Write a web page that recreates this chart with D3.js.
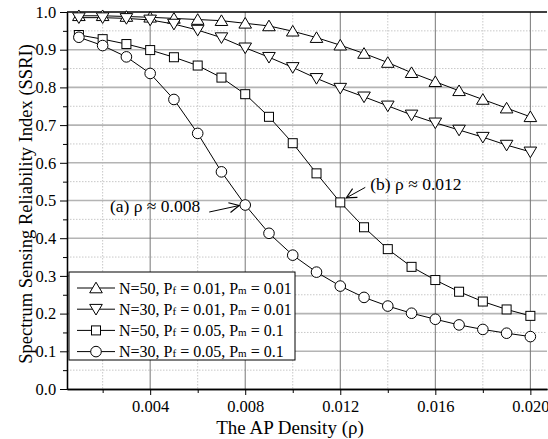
<!DOCTYPE html>
<html>
<head>
<meta charset="utf-8">
<script src="https://cdn.jsdelivr.net/npm/d3@7"></script>
<style>
  body { margin: 0; background: #fff; }
  text { font-family: "Liberation Serif", "Times New Roman", serif; }
</style>
</head>
<body>
<div id="chart"></div>
<script>
// data
var rho = [0.001, 0.002, 0.003, 0.004, 0.005, 0.006, 0.007, 0.008, 0.009, 0.010,
           0.011, 0.012, 0.013, 0.014, 0.015, 0.016, 0.017, 0.018, 0.019, 0.020];
var n50_pf001 = [0.990, 0.990, 0.988, 0.986, 0.983, 0.980, 0.977, 0.970, 0.963, 0.949,
                 0.932, 0.912, 0.890, 0.866, 0.839, 0.815, 0.791, 0.768, 0.745, 0.722];
var n30_pf001 = [0.985, 0.985, 0.983, 0.979, 0.968, 0.952, 0.932, 0.905, 0.880, 0.853,
                 0.824, 0.798, 0.775, 0.751, 0.727, 0.706, 0.687, 0.668, 0.647, 0.629];
var n50_pf005 = [0.939, 0.928, 0.915, 0.899, 0.880, 0.858, 0.826, 0.782, 0.722, 0.652,
                 0.572, 0.495, 0.429, 0.371, 0.324, 0.289, 0.258, 0.232, 0.211, 0.194];
var n30_pf005 = [0.933, 0.911, 0.881, 0.837, 0.768, 0.678, 0.576, 0.488, 0.413, 0.355,
                 0.310, 0.273, 0.243, 0.220, 0.201, 0.185, 0.170, 0.158, 0.148, 0.139];
var seriesNames = [
  ["N=50, P", "f", " = 0.01, P", "m", " = 0.01"],
  ["N=30, P", "f", " = 0.01, P", "m", " = 0.01"],
  ["N=50, P", "f", " = 0.05, P", "m", " = 0.1"],
  ["N=30, P", "f", " = 0.05, P", "m", " = 0.1"]
];
var markers = ["triangle-up", "triangle-down", "square", "circle"];
var xTicks = [0.004, 0.008, 0.012, 0.016, 0.020];
var xMinor = [0.002, 0.006, 0.010, 0.014, 0.018];
var yTicks = [0.0, 0.1, 0.2, 0.3, 0.4, 0.5, 0.6, 0.7, 0.8, 0.9, 1.0];
var yMinor = [0.05, 0.15, 0.25, 0.35, 0.45, 0.55, 0.65, 0.75, 0.85, 0.95];

var W = 548, H = 439;
var margin = {top: 12, left: 67, bottom: 50, right: 1};
var width = W - margin.left - margin.right;
var height = H - margin.top - margin.bottom;

var svg = d3.select("#chart").append("svg")
  .attr("width", W).attr("height", H);

var x = d3.scaleLinear().domain([0.0005, 0.0207]).range([0, width]);
var y = d3.scaleLinear().domain([0, 1]).range([height, 0]);

var g = svg.append("g").attr("transform", "translate(" + margin.left + "," + margin.top + ")");

// grid
g.selectAll(".ymin").data(yMinor).enter().append("line")
  .attr("x1", 0).attr("x2", width).attr("y1", d => y(d)).attr("y2", d => y(d))
  .attr("stroke", "#c8c8c8").attr("stroke-dasharray", "1.5,1.5");
g.selectAll(".xmin").data(xMinor).enter().append("line")
  .attr("y1", 0).attr("y2", height).attr("x1", d => x(d)).attr("x2", d => x(d))
  .attr("stroke", "#c8c8c8").attr("stroke-dasharray", "1.5,1.5");
g.selectAll(".ymaj").data(yTicks.slice(1, 10)).enter().append("line")
  .attr("x1", 0).attr("x2", width).attr("y1", d => y(d)).attr("y2", d => y(d))
  .attr("stroke", "#b4b4b4").attr("stroke-width", 1.6);
g.selectAll(".xmaj").data(xTicks).enter().append("line")
  .attr("y1", 0).attr("y2", height).attr("x1", d => x(d)).attr("x2", d => x(d))
  .attr("stroke", "#777").attr("stroke-width", 1);

// axes
var xAxis = g.append("g").attr("transform", "translate(0," + height + ")")
  .call(d3.axisBottom(x).tickValues(xTicks).tickFormat(d3.format(".3f")).tickSize(6).tickSizeOuter(0));
g.append("g").attr("transform", "translate(0," + height + ")")
  .call(d3.axisBottom(x).tickValues(xMinor).tickFormat("").tickSize(4).tickSizeOuter(0));
var yAxis = g.append("g")
  .call(d3.axisLeft(y).tickValues(yTicks).tickFormat(d3.format(".1f")).tickSize(7).tickSizeOuter(0));
g.append("g")
  .call(d3.axisLeft(y).tickValues(yMinor).tickFormat("").tickSize(4).tickSizeOuter(0));
g.selectAll(".domain").attr("stroke", "#000").attr("stroke-width", 1.3);
g.selectAll(".tick line").attr("stroke", "#000");
xAxis.attr("font-family", "Liberation Serif").attr("font-size", 16.5);
yAxis.attr("font-family", "Liberation Serif").attr("font-size", 16.5);
g.selectAll(".tick text").attr("fill", "#000");
xAxis.selectAll(".tick text").attr("dy", "0.84em");
yAxis.selectAll(".tick text").attr("dx", "-0.05em");
// top border
g.append("line").attr("x1", 0).attr("x2", width).attr("y1", 0).attr("y2", 0)
  .attr("stroke", "#000").attr("stroke-width", 1.5);

// series
var all = [n50_pf001, n30_pf001, n50_pf005, n30_pf005];
var line = d3.line().x((d, i) => x(rho[i])).y(d => y(d));

function drawMarker(sel, type, cx, cy) {
  if (type === "circle") {
    sel.append("circle").attr("cx", cx).attr("cy", cy).attr("r", 5.3)
      .attr("fill", "#fff").attr("stroke", "#000").attr("stroke-width", 1);
  } else if (type === "square") {
    sel.append("rect").attr("x", cx - 4.5).attr("y", cy - 4.5).attr("width", 9).attr("height", 9)
      .attr("fill", "#fff").attr("stroke", "#000").attr("stroke-width", 1);
  } else {
    var s = type === "triangle-up" ? -1 : 1;
    var pts = [[cx, cy + s * 5.8], [cx - 6.3, cy - s * 4.8], [cx + 6.3, cy - s * 4.8]];
    sel.append("path").attr("d", "M" + pts.join("L") + "Z")
      .attr("fill", "#fff").attr("stroke", "#000").attr("stroke-width", 1);
  }
}

all.forEach(function(vals, k) {
  g.append("path").datum(vals).attr("d", line)
    .attr("fill", "none").attr("stroke", "#000").attr("stroke-width", 1);
});
all.forEach(function(vals, k) {
  var mg = g.append("g");
  vals.forEach(function(v, i) { drawMarker(mg, markers[k], x(rho[i]), y(v)); });
});

// annotations
var defs = svg.append("defs");
defs.append("marker").attr("id", "arr").attr("viewBox", "0 0 12 12")
  .attr("refX", 11).attr("refY", 6).attr("markerWidth", 12).attr("markerHeight", 12)
  .attr("markerUnits", "userSpaceOnUse").attr("orient", "auto")
  .append("path").attr("d", "M1,1 L11,6 L1,11").attr("fill", "none").attr("stroke", "#000").attr("stroke-width", 1.1);

var annA = {x: 0.008, v: n30_pf005[7]};
var annB = {x: 0.012, v: n50_pf005[11]};
g.append("line").attr("x1", x(annA.x) - 36).attr("y1", y(annA.v) + 7)
  .attr("x2", x(annA.x) - 6).attr("y2", y(annA.v) + 0.5)
  .attr("stroke", "#000").attr("stroke-width", 1).attr("marker-end", "url(#arr)");
g.append("text").attr("x", x(annA.x) - 45).attr("y", y(annA.v) + 7)
  .attr("text-anchor", "end").style("font-size", "17.5px").text("(a) ρ ≈ 0.008");
g.append("line").attr("x1", x(annB.x) + 25).attr("y1", y(annB.v) - 15)
  .attr("x2", x(annB.x) + 6).attr("y2", y(annB.v) - 4.5)
  .attr("stroke", "#000").attr("stroke-width", 1).attr("marker-end", "url(#arr)");
g.append("text").attr("x", x(annB.x) + 30).attr("y", y(annB.v) - 12.5)
  .style("font-size", "17.5px").text("(b) ρ ≈ 0.012");

// legend
var lg = svg.append("g").attr("transform", "translate(69,272)");
lg.append("rect").attr("width", 226).attr("height", 88)
  .attr("fill", "#fff").attr("stroke", "#000").attr("stroke-width", 1);
seriesNames.forEach(function(parts, k) {
  var ly = 16 + k * 21.2;
  lg.append("line").attr("x1", 8).attr("x2", 46).attr("y1", ly).attr("y2", ly)
    .attr("stroke", "#000").attr("stroke-width", 1);
  drawMarker(lg, markers[k], 27, ly);
  var t = lg.append("text").attr("x", 50).attr("y", ly + 5.5).style("font-size", "16px");
  parts.forEach(function(p, j) {
    t.append("tspan").text(p).style("font-size", j % 2 === 1 ? "11px" : "16px");
  });
});

// axis titles
svg.append("text").attr("x", 290).attr("y", 433.5)
  .attr("text-anchor", "middle").style("font-size", "19px").text("The AP Density (ρ)");
svg.append("text").attr("transform", "translate(32,204) rotate(-90)")
  .attr("text-anchor", "middle").style("font-size", "18.5px")
  .text("Spectrum Sensing Reliability Index (SSRI)");
</script>
</body>
</html>
